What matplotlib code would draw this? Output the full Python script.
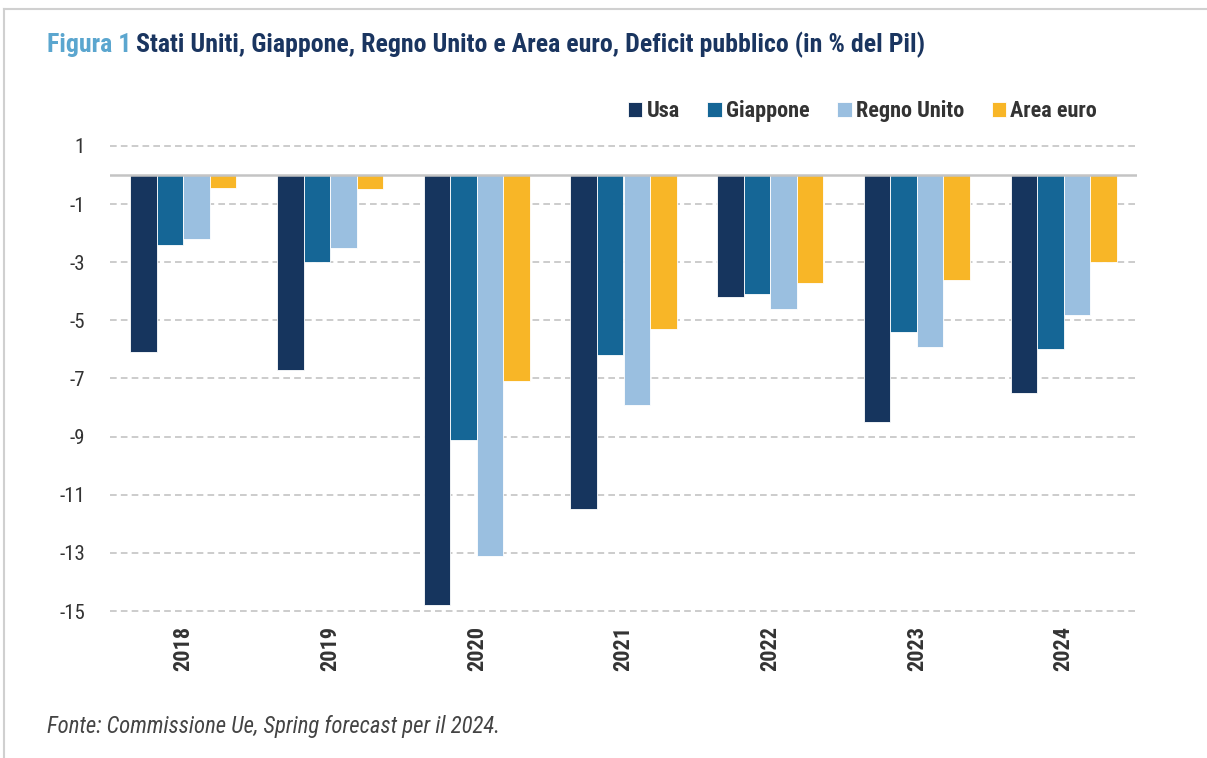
import numpy as np
import matplotlib
matplotlib.use("Agg")
import matplotlib.pyplot as plt
from matplotlib.lines import Line2D

plt.rcParams['font.family'] = ['Roboto Condensed', 'Liberation Sans Narrow', 'Roboto', 'DejaVu Sans']

anni = ['2018', '2019', '2020', '2021', '2022', '2023', '2024']
serie = ['Usa', 'Giappone', 'Regno Unito', 'Area euro']
usa = [-6.1, -6.7, -14.8, -11.5, -4.2, -8.5, -7.5]
giappone = [-2.4, -3.0, -9.1, -6.2, -4.1, -5.4, -6.0]
regno_unito = [-2.2, -2.5, -13.1, -7.9, -4.6, -5.9, -4.8]
area_euro = [-0.45, -0.5, -7.1, -5.3, -3.7, -3.6, -3.0]
yticks = [1, -1, -3, -5, -7, -9, -11, -13, -15]

colori = ['#16355e', '#156696', '#9abfe0', '#f8b627']

fig = plt.figure(figsize=(12.07, 7.58), dpi=100)
ax = fig.add_axes([110/1207, 1 - 612/758, (1137-110)/1207, (612-145)/758])

x = np.arange(len(anni))
w = 0.181
for i, (vals, c) in enumerate(zip([usa, giappone, regno_unito, area_euro], colori)):
    ax.bar(x + (i - 1.5)*w, vals, w, color=c, edgecolor='white', linewidth=0.6,
           label=serie[i], zorder=3)

ax.set_xlim(-0.5, 6.5)
ax.set_ylim(-15.03, 1.03)
ax.set_yticks(yticks)
ax.set_yticklabels([str(v) for v in yticks], fontsize=15, color='#333333')
for v in yticks:
    ax.axhline(v, color='#c4c4c4', lw=1.2, ls=(0, (4, 2.5)), zorder=1)
ax.axhline(0, color='#c4c4c4', lw=1.8, zorder=4)
ax.set_xticks(x)
ax.set_xticklabels(anni, rotation=90, fontsize=16, fontweight='bold', color='#333333')
ax.tick_params(axis='both', length=0)
ax.tick_params(axis='y', pad=18)
ax.tick_params(axis='x', pad=10)
for s in ax.spines.values():
    s.set_visible(False)

leg = fig.legend(loc='center right', bbox_to_anchor=(1117/1207, 1 - 111/758), ncol=4,
                 frameon=False, handlelength=0.65, handleheight=0.65, handletextpad=0.18,
                 columnspacing=1.25, prop={'size': 16, 'weight': 'bold'})
for t in leg.get_texts():
    t.set_color('#333333')

# titolo
t1 = fig.text(47/1207, 1 - 45/758, 'Figura 1', fontsize=18.6, fontweight='bold',
              color='#5ba6cf', va='center', ha='left')
fig.canvas.draw()
bb = t1.get_window_extent()
fig.text(bb.x1/1207 + 5/1207, 1 - 45/758,
         'Stati Uniti, Giappone, Regno Unito e Area euro, Deficit pubblico (in % del Pil)',
         fontsize=18.6, fontweight='bold', color='#1a3560', va='center', ha='left')

fig.text(47/1207, 1 - 727/758, 'Fonte: Commissione Ue, Spring forecast per il 2024.',
         fontsize=16.4, fontstyle='italic', color='#444444', va='center', ha='left')

# cornice
fig.add_artist(Line2D([4/1207, 1], [1 - 9/758, 1 - 9/758], color='#d0d0d0', lw=1.5))
fig.add_artist(Line2D([4/1207, 4/1207], [0, 1 - 9/758], color='#d0d0d0', lw=1.5))

fig.savefig('out.png', dpi=100)
